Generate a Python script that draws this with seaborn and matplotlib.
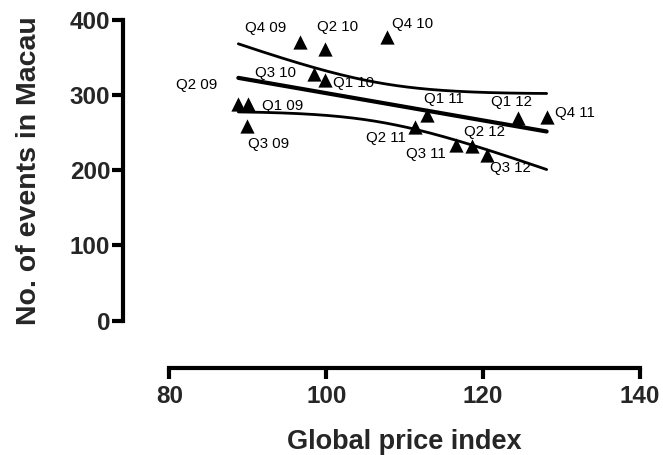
import numpy as np
import pandas as pd
import matplotlib
matplotlib.use("Agg")
import matplotlib.pyplot as plt
import seaborn as sns

quarters = ["Q1 09", "Q2 09", "Q3 09", "Q4 09", "Q1 10", "Q2 10", "Q3 10", "Q4 10",
            "Q1 11", "Q2 11", "Q3 11", "Q4 11", "Q1 12", "Q2 12", "Q3 12"]
price_index = [90.0, 88.8, 89.9, 96.6, 99.9, 99.85, 98.45, 107.8,
               112.9, 111.3, 116.6, 128.1, 124.4, 118.6, 120.5]
events = [288, 288, 259, 371, 320, 361, 328, 378,
          274, 258, 234, 271, 269, 232, 220]
# label anchor positions (data coords)
label_x = [91.85, 80.85, 90.07, 89.65, 100.9, 98.79, 90.92, 108.35,
           112.47, 105.07, 110.17, 129.17, 121.0, 117.56, 120.87]
label_y = [285.6, 313.6, 235.0, 389.5, 315.9, 391.2, 330.0, 394.8,
           294.5, 242.6, 221.7, 276.7, 291.3, 251.4, 202.7]

df = pd.DataFrame({"quarter": quarters, "x": price_index, "y": events})

sns.set_theme(style="ticks")
plt.rcParams["font.family"] = ["Liberation Sans", "DejaVu Sans"]

fig = plt.figure(figsize=(6.63, 4.55), dpi=100)
ax = fig.add_axes([169.3 / 663, 1 - 320.5 / 455, (640 - 169.3) / 663, (320.5 - 20) / 455])

# linear regression with 95% confidence band
x = df["x"].to_numpy()
y = df["y"].to_numpy()
n = len(x)
slope, intercept = np.polyfit(x, y, 1)
resid = y - (slope * x + intercept)
s = np.sqrt(np.sum(resid ** 2) / (n - 2))
xs = np.linspace(x.min(), x.max(), 200)
fit = slope * xs + intercept
t = 2.160  # t(0.975, df=13)
se = s * np.sqrt(1 / n + (xs - x.mean()) ** 2 / np.sum((x - x.mean()) ** 2))
fit_df = pd.DataFrame({"x": xs, "fit": fit, "lo": fit - t * se, "hi": fit + t * se})

sns.lineplot(data=fit_df, x="x", y="fit", color="black", lw=3.0, ax=ax)
sns.lineplot(data=fit_df, x="x", y="lo", color="black", lw=2.0, ax=ax)
sns.lineplot(data=fit_df, x="x", y="hi", color="black", lw=2.0, ax=ax)

sns.scatterplot(data=df, x="x", y="y", marker="^", s=105, color="black",
                edgecolor="black", linewidth=0, ax=ax, zorder=3)

for q, lx, ly in zip(quarters, label_x, label_y):
    ax.text(lx, ly, q, fontsize=10.8, ha="left", va="center", color="black")

ax.set_xlim(80, 140)
ax.set_ylim(0, 400)
ax.set_xticks([80, 100, 120, 140])
ax.set_yticks([0, 100, 200, 300, 400])

sns.despine(ax=ax)
ax.spines["left"].set_position(("outward", 33))
ax.spines["bottom"].set_position(("outward", 34.5))
for sp in ["left", "bottom"]:
    ax.spines[sp].set_linewidth(3.0)
    ax.spines[sp].set_color("black")
ax.tick_params(axis="both", width=3.0, length=8, color="black", labelsize=17.5)
ax.tick_params(axis="y", pad=1.5)
ax.tick_params(axis="x", pad=4)
for lab in ax.get_xticklabels() + ax.get_yticklabels():
    lab.set_fontweight("bold")

ax.set_xlabel("Global price index", fontsize=19.5, fontweight="bold", labelpad=15)
ax.set_ylabel("No. of events in Macau", fontsize=20.5, fontweight="bold", labelpad=20)

fig.savefig("out.png", dpi=100)
